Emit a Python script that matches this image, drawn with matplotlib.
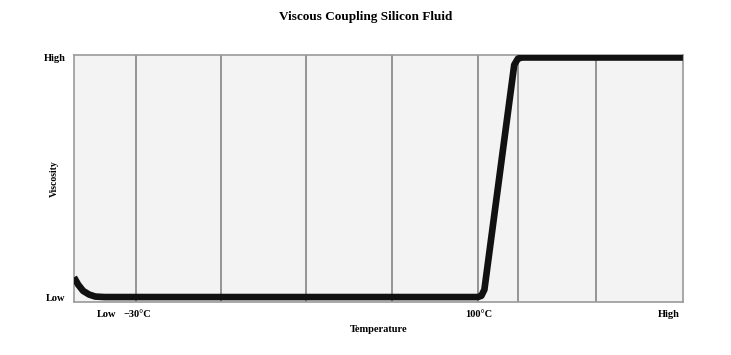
import numpy as np
import matplotlib.pyplot as plt

plt.rcParams['font.family'] = 'Liberation Serif'
plt.rcParams['font.weight'] = 'bold'

# temperature axis scaled 0..100 across the plot, viscosity 0 (low) .. 1 (high)
temp = [0, 0.7, 1.5, 2.5, 3.5, 5, 66.3, 66.9, 67.4, 72.3, 72.9, 73.6, 100]
visc = [0.10, 0.07, 0.045, 0.03, 0.022, 0.02, 0.02, 0.025, 0.05, 0.96, 0.985, 0.99, 0.99]

grid_x = [10.2, 24.1, 38.1, 52.2, 66.3, 72.9, 85.7]
xtick_pos = [5.4, 10.4, 66.5, 97.7]
xtick_lab = ['Low', '\u221230\u00b0C', '100\u00b0C', 'High']
ytick_pos = [0.02, 0.99]
ytick_lab = ['Low', 'High']

fig = plt.figure(figsize=(7.31, 3.55), dpi=100)
ax = fig.add_axes([0.1012, 0.1493, 0.833, 0.6958])
ax.set_facecolor('#f3f3f3')

for gx in grid_x:
    ax.axvline(gx, color='#8c8c8c', lw=1.3, zorder=1)

ax.plot(temp, visc, color='#111111', lw=4.8, solid_joinstyle='round',
        solid_capstyle='butt', zorder=3)

ax.set_xlim(0, 100)
ax.set_ylim(0, 1)
ax.set_xticks(xtick_pos)
ax.set_xticklabels(xtick_lab, fontsize=7.5, fontweight='bold')
ax.set_yticks(ytick_pos)
ax.set_yticklabels(ytick_lab, fontsize=7.5, fontweight='bold')
ax.tick_params(length=0, pad=6)
for s in ax.spines.values():
    s.set_color('#9a9a9a')
    s.set_linewidth(1.2)

ax.set_xlabel('Temperature', fontsize=7.5, fontweight='bold', labelpad=4)
ax.set_ylabel('Viscosity', fontsize=7, fontweight='bold')
ax.yaxis.set_label_coords(-0.025, 0.5)
fig.suptitle('Viscous Coupling Silicon Fluid', fontsize=9.5, fontweight='bold',
             x=0.5, y=0.97)

plt.savefig('out.png', dpi=100)
